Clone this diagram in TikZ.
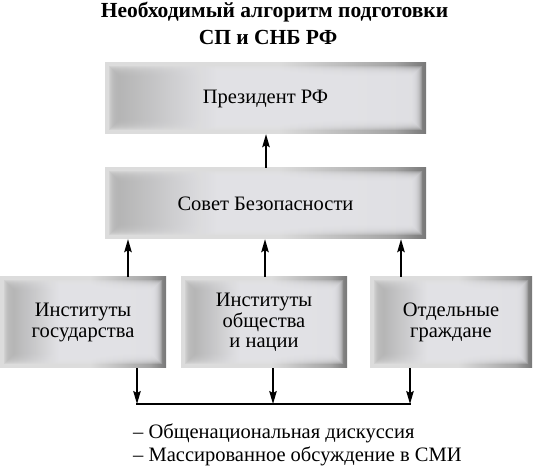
\documentclass[tikz,border=0pt]{standalone}
\usepackage{fontspec}
\setmainfont{Liberation Serif}
\usetikzlibrary{arrows.meta}
\definecolor{oa}{HTML}{DCDCDC}
\definecolor{ob}{HTML}{A4A4A4}
\definecolor{oc}{HTML}{787878}
\definecolor{ia}{HTML}{B4B4B4}
\definecolor{ib}{HTML}{E4E4E8}
\pgfdeclarehorizontalshading{outersh}{100bp}{color(0bp)=(oa); color(25bp)=(oa); color(52bp)=(oa); color(70bp)=(ob); color(75bp)=(oc); color(100bp)=(oc)}
\pgfdeclarehorizontalshading{innersh}{100bp}{color(0bp)=(ia); color(25bp)=(ia); color(42bp)=(ib); color(100bp)=(ib)}
\tikzset{
  gbox/.style={rectangle, inner sep=0pt, align=center,
    font=\fontsize{20.5}{20.5}\selectfont,
    path picture={
      \shade[shading=outersh] (path picture bounding box.south west) rectangle (path picture bounding box.north east);
      \foreach \d in {4,5,...,14}{
        \shade[shading=innersh, opacity=0.25]
          ([xshift=\d pt,yshift=\d pt]path picture bounding box.south west) rectangle
          ([xshift=-\d pt,yshift=-\d pt]path picture bounding box.north east);
      }
    }},
  wide/.style={gbox, minimum width=321pt, minimum height=71pt},
  low/.style={gbox, minimum width=166pt, minimum height=91pt},
  arr/.style={-{Stealth[length=13pt,width=7.5pt,inset=2pt]}, line width=1.4pt},
  bar/.style={line width=1.4pt},
  ttl/.style={font=\fontsize{21.5}{24}\selectfont\bfseries, anchor=base, inner sep=0pt},
  note/.style={font=\fontsize{20.5}{23}\selectfont, anchor=base west, inner sep=0pt},
}
\begin{document}
\begin{tikzpicture}[x=1pt,y=1pt]
\useasboundingbox (0,0) rectangle (536,468);
\node[ttl] (t1) at (274.5,450) {Необходимый алгоритм подготовки};
\node[ttl] (t2) at (268,423) {СП и СНБ РФ};
\node[wide] (P) at (265.5,369.5) {Президент РФ};
\node[wide] (S) at (265.5,264.5) {Совет Безопасности};
\node[low] (A) at (83,145.5) {Институты\\государства};
\node[low] (B) at (264,145.5) {Институты\\общества\\и нации};
\node[low, minimum width=162pt] (C) at (451,145.5) {Отдельные\\граждане};
\coordinate (lvl) at (0,64);
\draw[arr] ([xshift=0.5pt]S.north) -- ([xshift=0.5pt]P.south);
\draw[arr] ([xshift=45pt]A.north) -- ([xshift=45pt]A.north |- S.south);
\draw[arr] ([xshift=1pt]B.north) -- ([xshift=1pt]B.north |- S.south);
\draw[arr] ([xshift=-50pt]C.north) -- ([xshift=-50pt]C.north |- S.south);
\draw[arr] ([xshift=54pt]A.south) -- ([xshift=54pt]A.south |- lvl) coordinate (l);
\draw[arr] ([xshift=9pt]B.south) -- ([xshift=9pt]B.south |- lvl);
\draw[arr] ([xshift=-41pt]C.south) -- ([xshift=-41pt]C.south |- lvl) coordinate (r);
\draw[bar] ([xshift=-0.7pt]l) -- ([xshift=0.7pt]r);
\node[note] (n1) at (133,29) {– Общенациональная дискуссия};
\node[note] (n2) at (133,6) {– Массированное обсуждение в СМИ};
\end{tikzpicture}
\end{document}
